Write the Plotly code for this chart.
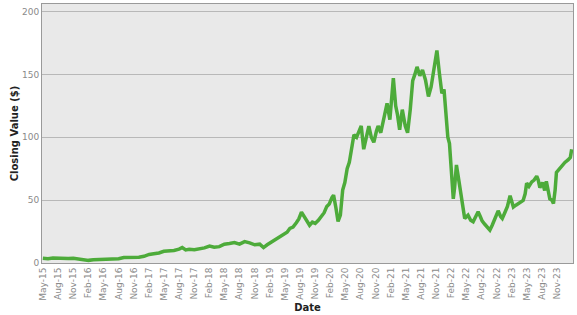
import plotly.graph_objects as go

dates = [
    "2015-05-01","2015-06-01","2015-07-01","2015-08-01","2015-09-01","2015-10-01","2015-11-01","2015-12-01",
    "2016-01-01","2016-02-01","2016-03-01","2016-04-01","2016-05-01","2016-06-01","2016-07-01","2016-08-01",
    "2016-09-01","2016-10-01","2016-11-01","2016-12-01","2017-01-01","2017-02-01","2017-03-01","2017-04-01",
    "2017-05-01","2017-06-01","2017-07-01","2017-08-01","2017-08-20","2017-09-10","2017-10-01","2017-11-01",
    "2017-12-01","2018-01-01","2018-02-01","2018-03-01","2018-04-01","2018-05-01","2018-06-01","2018-07-01",
    "2018-08-01","2018-09-01","2018-10-01","2018-11-01","2018-12-01","2018-12-24","2019-01-15","2019-02-15",
    "2019-03-15","2019-04-15","2019-05-15","2019-06-01","2019-06-20","2019-07-10","2019-07-25","2019-08-10",
    "2019-08-25","2019-09-10","2019-09-28","2019-10-15","2019-11-01","2019-11-20","2019-12-05","2019-12-25",
    "2020-01-10","2020-01-25","2020-02-10","2020-02-20","2020-03-05","2020-03-18","2020-04-01","2020-04-15",
    "2020-04-28","2020-05-12","2020-05-25","2020-06-08","2020-06-22","2020-07-08","2020-07-22","2020-08-05",
    "2020-08-20","2020-09-05","2020-09-20","2020-10-05","2020-10-20","2020-11-05","2020-11-15","2020-12-01",
    "2020-12-20","2021-01-08","2021-01-25","2021-02-05","2021-02-15","2021-03-01","2021-03-12","2021-03-25",
    "2021-04-10","2021-04-28","2021-05-12","2021-05-28","2021-06-12","2021-06-25","2021-07-08","2021-07-25",
    "2021-08-10","2021-08-28","2021-09-15","2021-10-01","2021-10-08","2021-10-25","2021-11-05","2021-11-20",
    "2021-12-05","2021-12-18","2021-12-30","2022-01-10","2022-01-20","2022-02-01","2022-02-12","2022-02-20",
    "2022-03-03","2022-03-13","2022-03-25","2022-04-05","2022-04-22","2022-05-12","2022-05-28","2022-06-12",
    "2022-06-28","2022-07-12","2022-07-25","2022-08-05","2022-08-20","2022-09-01","2022-09-21","2022-10-05",
    "2022-10-21","2022-11-10","2022-11-25","2022-12-05","2022-12-20","2023-01-05","2023-01-21","2023-02-10",
    "2023-02-25","2023-03-10","2023-03-25","2023-04-10","2023-04-22","2023-05-01","2023-05-15","2023-06-01",
    "2023-06-15","2023-07-01","2023-07-10","2023-07-20","2023-08-05","2023-08-18","2023-08-28","2023-09-10",
    "2023-09-18","2023-10-01","2023-10-10","2023-10-20","2023-10-28","2023-11-10","2023-11-28","2023-12-10",
    "2023-12-18","2024-01-06","2024-01-20","2024-01-28",
]

closing = [
    3.8, 3.4, 4.0, 3.9, 3.2, 3.6, 3.7, 3.0,
    2.5, 2.1, 2.6, 2.9, 3.1, 3.4, 3.6, 3.4,
    4.4, 4.3, 4.5, 4.6, 5.3, 6.8, 7.4, 8.0,
    9.3, 9.6, 10.0, 11.0, 12.3, 10.4, 10.9, 10.6,
    11.2, 12.0, 13.5, 12.5, 13.0, 15.0, 15.5, 16.2,
    15.0, 17.0, 16.0, 14.5, 15.0, 12.3, 14.5, 17.0,
    19.0, 22.0, 24.5, 27.5, 28.5, 32.0, 35.0, 40.5,
    37.0, 33.0, 30.0, 32.5, 31.5, 34.0, 37.0, 40.0,
    45.0, 47.0, 52.0, 54.0, 44.0, 33.0, 38.0, 58.0,
    64.0, 75.0, 80.0, 93.0, 102.0, 100.0, 104.0, 109.0,
    90.5, 100.0, 108.8, 100.0, 96.0, 105.0, 109.0, 103.6,
    114.0, 127.0, 114.0, 135.0, 147.0, 125.0, 118.0, 106.0,
    122.0, 109.0, 103.6, 122.0, 145.0, 150.0, 156.0, 149.0,
    153.5, 145.6, 132.5, 140.0, 145.6, 161.0, 169.0, 151.0,
    135.0, 138.0, 114.0, 100.0, 95.0, 67.0, 51.0, 60.0,
    78.0, 69.5, 59.0, 48.0, 35.4, 38.0, 34.0, 32.8,
    37.0, 40.7, 37.0, 33.5, 31.0, 28.9, 26.2, 30.0,
    35.4, 41.5, 37.0, 35.4, 40.0, 45.0, 53.5, 44.5,
    46.0, 47.2, 48.0, 49.8, 55.0, 63.5, 61.0, 64.5,
    66.0, 69.0, 66.0, 60.0, 64.0, 57.7, 65.0, 57.0,
    51.0, 50.0, 47.2, 58.0, 72.0, 74.0, 77.0, 78.0,
    80.0, 82.0, 84.0, 90.5,
]

y_ticks = [0, 50, 100, 150, 200]

fig = go.Figure()
fig.add_trace(go.Scatter(
    x=dates, y=closing, mode="lines",
    line=dict(color="#4dab3a", width=3.5),
    showlegend=False,
))

tick_font = dict(family="DejaVu Sans", size=9, color="#8a8a8a")
title_font = dict(family="DejaVu Sans", size=10, color="#222222")

fig.update_layout(
    width=577, height=315,
    margin=dict(l=42, r=4, t=3, b=50),
    paper_bgcolor="white",
    plot_bgcolor="#e9e9e9",
    xaxis=dict(
        type="date",
        range=["2015-04-26", "2024-02-05"],
        tick0="2015-05-01", dtick="M3",
        tickformat="%b-%y",
        tickangle=-90,
        tickfont=tick_font,
        showgrid=False,
        showline=True, linecolor="#9a9a9a", linewidth=1, mirror=True,
        ticks="", zeroline=False,
        title=dict(text="<b>Date</b>", font=title_font, standoff=4),
    ),
    yaxis=dict(
        range=[0, 206],
        tickvals=y_ticks,
        tickfont=tick_font,
        showgrid=True, gridcolor="#b8b8b8", gridwidth=1,
        showline=True, linecolor="#9a9a9a", linewidth=1, mirror=True,
        ticks="", zeroline=False,
        automargin=False,
        title=dict(text="<b>Closing Value ($)</b>", font=title_font, standoff=1),
    ),
)

fig.write_html("out.html")
